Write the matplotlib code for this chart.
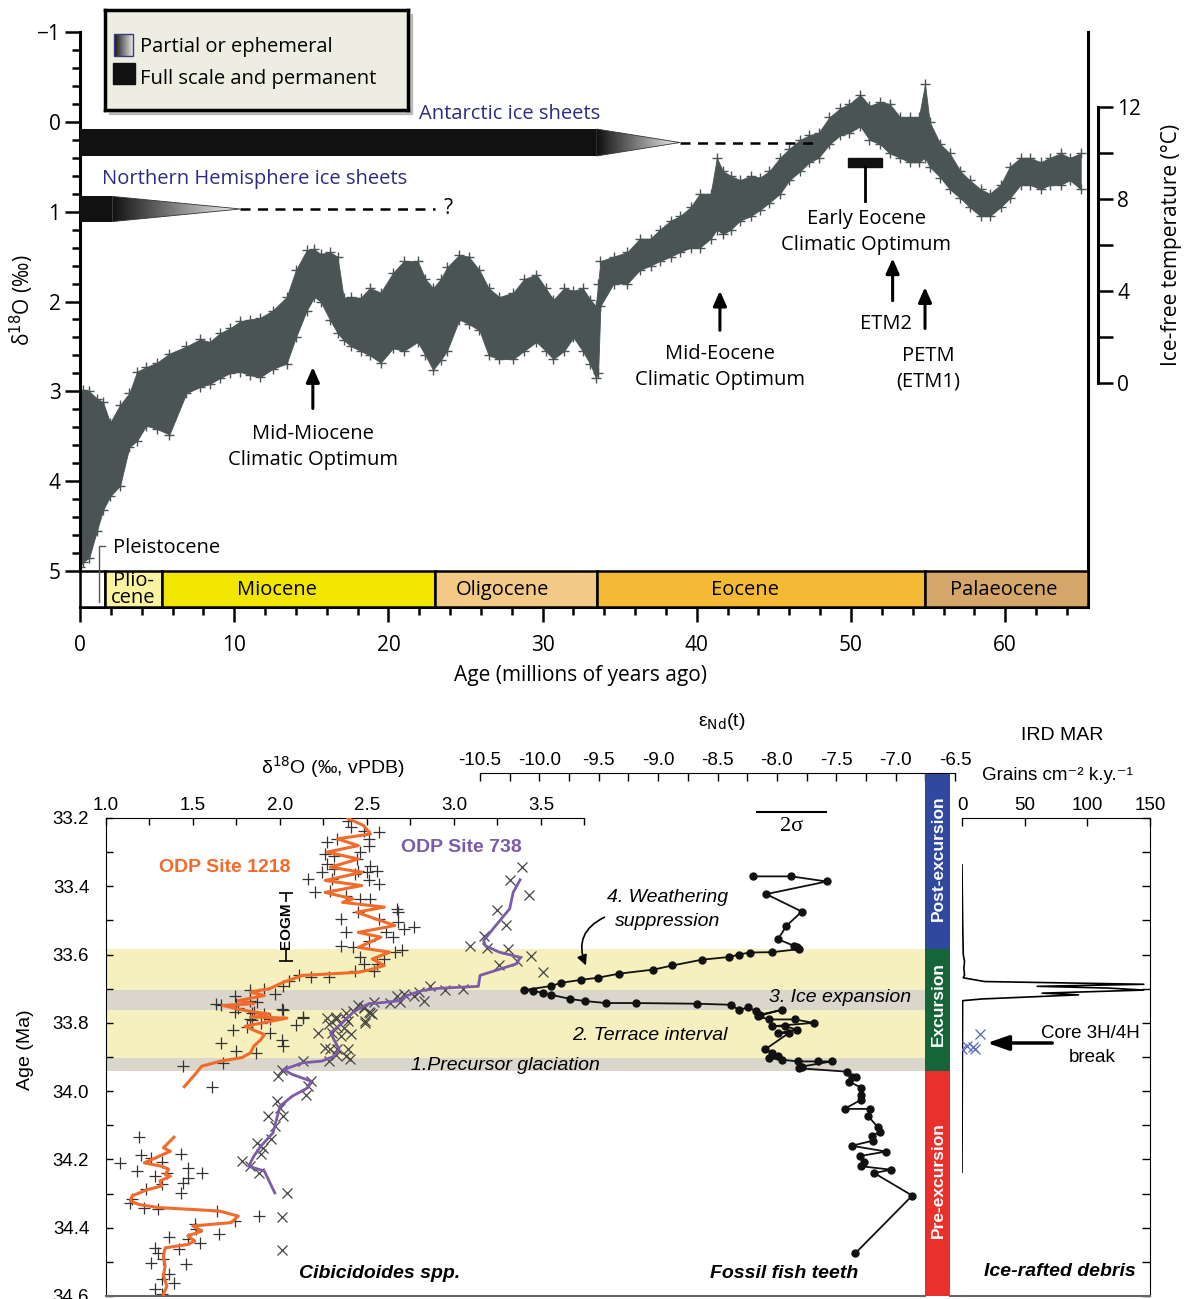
import numpy as np
import matplotlib.pyplot as plt
import matplotlib.ticker as mticker
from matplotlib.patches import Rectangle, Polygon
from matplotlib.colors import LinearSegmentedColormap

W, H = 1190, 1299
TOP_FONT = ['Open Sans', 'DejaVu Sans']
BOT_FONT = ['Liberation Sans', 'DejaVu Sans']
plt.rcParams['font.family'] = TOP_FONT

# Cenozoic benthic d18O compilation: upper / lower edge of the scatter cloud
zac_age = [0.0, 0.2, 0.6, 1.1, 1.5, 1.95, 2.6, 3.2, 3.7, 4.3, 5.0, 5.8, 6.9, 7.8,
           8.4, 9.1, 9.7, 10.4, 11.0, 11.7, 12.5, 13.4, 14.0, 14.7, 15.2, 15.6,
           16.2, 16.7, 17.1, 17.6, 18.2, 18.8, 19.5, 20.3, 21.0, 21.9, 22.4, 22.9,
           23.4, 23.8, 24.6, 25.2, 25.9, 26.5, 27.2, 28.1, 28.8, 29.6, 30.2, 30.7,
           31.4, 32.0, 32.6, 33.1, 33.45, 33.6, 33.75, 34.6, 35.5, 36.3, 37.0,
           37.6, 38.3, 38.9, 39.6, 40.2, 40.9, 41.3, 41.7, 42.2, 42.8, 43.5, 44.1,
           44.7, 45.4, 46.0, 46.7, 47.3, 47.9, 48.6, 49.3, 49.9, 50.6, 51.2, 51.9,
           52.5, 53.2, 53.8, 54.4, 54.8, 55.1, 55.8, 56.4, 57.1, 57.7, 58.4, 59.0,
           59.7, 60.3, 61.0, 61.6, 62.3, 62.9, 63.6, 64.2, 64.9]
zac_lo = [3.00, 2.98, 3.00, 3.08, 3.12, 3.35, 3.15, 3.02, 2.78, 2.73, 2.68, 2.58,
          2.50, 2.42, 2.45, 2.35, 2.30, 2.22, 2.20, 2.18, 2.10, 1.95, 1.65, 1.43,
          1.42, 1.47, 1.45, 1.50, 1.96, 1.95, 1.96, 1.85, 1.90, 1.68, 1.55, 1.55,
          1.75, 1.85, 1.75, 1.62, 1.48, 1.50, 1.65, 1.85, 1.95, 1.90, 1.75, 1.70,
          1.85, 1.98, 1.85, 1.88, 1.85, 1.98, 2.05, 1.80, 1.55, 1.50, 1.45, 1.30,
          1.30, 1.20, 1.10, 1.05, 0.95, 0.80, 0.80, 0.40, 0.55, 0.60, 0.65, 0.60,
          0.62, 0.55, 0.40, 0.30, 0.20, 0.15, 0.12, -0.05, -0.15, -0.20, -0.30,
          -0.18, -0.22, -0.20, -0.05, -0.05, -0.05, -0.42, 0.00, 0.25, 0.35, 0.55,
          0.65, 0.75, 0.80, 0.70, 0.50, 0.40, 0.40, 0.45, 0.40, 0.35, 0.40, 0.35]
zac_hi = [4.95, 4.90, 4.85, 4.55, 4.32, 4.17, 4.05, 3.62, 3.55, 3.38, 3.42, 3.48,
          3.02, 2.95, 2.92, 2.85, 2.80, 2.78, 2.82, 2.84, 2.75, 2.69, 2.40, 2.10,
          1.95, 2.00, 2.20, 2.35, 2.43, 2.50, 2.55, 2.60, 2.68, 2.52, 2.55, 2.45,
          2.60, 2.76, 2.65, 2.55, 2.20, 2.25, 2.32, 2.60, 2.64, 2.64, 2.55, 2.45,
          2.55, 2.64, 2.55, 2.40, 2.55, 2.70, 2.85, 2.80, 2.05, 1.80, 1.80, 1.65,
          1.60, 1.55, 1.50, 1.45, 1.40, 1.40, 1.30, 1.20, 1.25, 1.20, 1.10, 1.05,
          0.98, 0.90, 0.80, 0.65, 0.55, 0.45, 0.40, 0.25, 0.15, 0.12, 0.05, 0.20,
          0.25, 0.35, 0.40, 0.45, 0.45, 0.40, 0.50, 0.62, 0.75, 0.85, 0.95, 1.05,
          1.05, 0.95, 0.85, 0.70, 0.70, 0.75, 0.70, 0.70, 0.65, 0.75]

epoch_names = ['', 'Plio-\ncene', 'Miocene', 'Oligocene', 'Eocene', 'Palaeocene']
epoch_start = [0.0, 1.6, 5.3, 23.0, 33.5, 54.8]
epoch_end = [1.6, 5.3, 23.0, 33.5, 54.8, 65.37]
epoch_label_at = [0.8, 3.45, 12.8, 27.4, 43.1, 59.9]
epoch_colors = ['white', '#faf3a0', '#f2e600', '#f2c985', '#f5ba35', '#d4a66a']

# ODP Site 1218 benthic d18O (smoothed curve and individual samples)
s1218_d18o = [2.39, 2.48, 2.52, 2.33, 2.45, 2.27, 2.45, 2.29, 2.47, 2.26, 2.47, 2.26,
              2.42, 2.36, 2.60, 2.44, 2.66, 2.45, 2.58, 2.45, 2.63, 2.53, 2.60, 2.52,
              2.45, 2.13, 2.02, 1.94, 1.83, 1.91, 1.76, 1.85, 1.67, 1.80, 1.94, 1.83,
              2.04, 1.80, 1.86, 1.91, 1.89, 1.85, 1.83, 1.78, 1.66, 1.55, 1.52, 1.45,
              np.nan, 1.39, 1.33, 1.37, 1.22, 1.32, 1.36, 1.34, 1.37, 1.31, 1.32, 1.24,
              1.15, 1.14, 1.19, 1.30, 1.65, 1.76, 1.72, 1.50, 1.55, 1.47, 1.51, 1.47,
              1.34, 1.33, 1.34, 1.33, 1.35, 1.33]
s1218_age = [33.201, 33.222, 33.247, 33.261, 33.281, 33.300, 33.320, 33.344, 33.359,
             33.383, 33.398, 33.418, 33.437, 33.447, 33.461, 33.476, 33.515, 33.535,
             33.549, 33.579, 33.593, 33.613, 33.632, 33.644, 33.652, 33.661, 33.681,
             33.700, 33.710, 33.720, 33.735, 33.744, 33.749, 33.764, 33.774, 33.783,
             33.786, 33.810, 33.824, 33.834, 33.849, 33.868, 33.888, 33.902, 33.912,
             33.927, 33.946, 33.987, np.nan, 34.135, 34.166, 34.176, 34.210, 34.220,
             34.229, 34.244, 34.249, 34.263, 34.278, 34.288, 34.307, 34.322, 34.332,
             34.341, 34.351, 34.366, 34.385, 34.395, 34.410, 34.424, 34.439, 34.449,
             34.459, 34.483, 34.512, 34.541, 34.571, 34.595]
s1218_pts_d18o = [2.39, 2.41, 2.48, 2.57, 2.51, 2.27, 2.33, 2.51, 2.26, 2.31, 2.46, 2.44,
                  2.52, 2.27, 2.31, 2.45, 2.43, 2.50, 2.56, 2.24, 2.30, 2.51, 2.57, 2.16,
                  2.20, 2.29, 2.38, 2.46, 2.52, 2.67, 2.68, 2.35, 2.45, 2.57, 2.68, 2.77,
                  2.71, 2.61, 2.38, 2.65, 2.51, 2.35, 2.70, 2.42, 2.46, 2.60, 2.66, 2.56,
                  2.48, 2.43, 2.54, 2.28, 2.18, 2.11, 2.05, 2.02, 1.97, 1.91, 1.83, 1.74,
                  1.63, 1.66, 1.75, 1.83, 1.87, 1.74, 1.85, 2.01, 1.94, 2.13, 1.84, 1.81,
                  1.76, 1.84, 1.91, 2.02, 1.83, 1.89, 2.13, 2.09, 1.73, 1.94, 2.01, 1.66,
                  2.02, 1.75, 1.86, 1.67, 1.44, 1.61, 1.19, 1.20, 1.08, 1.26, 1.32, 1.43,
                  1.18, 1.28, 1.35, 1.47, 1.55, 1.47, 1.23, 1.32, 1.44, 1.43, 1.15, 1.14,
                  1.22, 1.30, 1.64, 1.74, 1.88, 1.51, 1.52, 1.65, 1.36, 1.47, 1.54, 1.42,
                  1.28, 1.30, 1.26, 1.33, 1.46, 1.36, 1.32, 1.39, 1.28, 1.32]
s1218_pts_age = [33.208, 33.227, 33.237, 33.242, 33.261, 33.271, 33.261, 33.281, 33.305,
                 33.310, 33.300, 33.320, 33.340, 33.335, 33.349, 33.354, 33.364, 33.359,
                 33.354, 33.359, 33.379, 33.383, 33.393, 33.379, 33.418, 33.413, 33.427,
                 33.437, 33.437, 33.466, 33.476, 33.496, 33.476, 33.496, 33.505, 33.520,
                 33.525, 33.535, 33.535, 33.549, 33.559, 33.574, 33.588, 33.579, 33.608,
                 33.613, 33.593, 33.627, 33.627, 33.647, 33.647, 33.666, 33.666, 33.661,
                 33.676, 33.691, 33.715, 33.700, 33.705, 33.720, 33.744, 33.749, 33.744,
                 33.735, 33.740, 33.769, 33.767, 33.759, 33.788, 33.783, 33.793, 33.813,
                 33.756, 33.771, 33.773, 33.761, 33.790, 33.800, 33.785, 33.805, 33.820,
                 33.829, 33.849, 33.859, 33.868, 33.883, 33.888, 33.917, 33.927, 33.987,
                 34.135, 34.188, 34.210, 34.195, 34.208, 34.185, 34.234, 34.249, 34.239,
                 34.224, 34.239, 34.254, 34.288, 34.273, 34.268, 34.298, 34.315, 34.327,
                 34.341, 34.344, 34.351, 34.380, 34.366, 34.390, 34.405, 34.417, 34.427,
                 34.434, 34.444, 34.463, 34.459, 34.473, 34.502, 34.493, 34.507, 34.537,
                 34.549, 34.561, 34.580, 34.595]

# ODP Site 738 benthic d18O
s738_d18o = [3.38, 3.34, 3.32, 3.24, 3.17, 3.18, 3.26, 3.38, 3.36, 3.15, 3.14, 2.91,
             2.82, 2.73, 2.69, 2.60, 2.51, 2.47, 2.42, 2.38, 2.33, 2.29, 2.34, 2.31,
             2.24, 2.13, 2.02, 2.07, 2.18, 2.16, 2.07, 2.00, 1.98, 1.96, 1.89, 1.85,
             1.82, 1.91, 1.97]
s738_age = [33.381, 33.418, 33.466, 33.515, 33.559, 33.574, 33.593, 33.608, 33.627,
            33.661, 33.693, 33.699, 33.705, 33.720, 33.735, 33.740, 33.744, 33.754,
            33.769, 33.788, 33.813, 33.829, 33.878, 33.898, 33.912, 33.917, 33.937,
            33.951, 33.971, 33.990, 34.015, 34.044, 34.083, 34.122, 34.161, 34.190,
            34.220, 34.234, 34.298]
s738_pts_d18o = [3.39, 3.32, 3.43, 3.25, 3.30, 3.17, 3.09, 3.19, 3.31, 3.44, 3.26, 3.51,
                 3.36, 3.05, 2.95, 2.86, 2.80, 2.77, 2.71, 2.67, 2.83, 2.69, 2.63, 2.54,
                 2.48, 2.51, 2.45, 2.42, 2.53, 2.38, 2.32, 2.28, 2.33, 2.49, 2.38, 2.48,
                 2.52, 2.49, 2.32, 2.39, 2.27, 2.22, 2.30, 2.37, 2.41, 2.35, 2.26, 2.29,
                 2.33, 2.39, 2.32, 2.38, 2.28, 2.40, 2.13, 2.01, 1.99, 2.18, 2.16, 2.15,
                 1.98, 2.00, 2.02, 1.93, 1.97, 1.95, 1.87, 1.90, 1.89, 1.78, 1.83, 1.88,
                 2.04, 2.01, 2.01]
s738_pts_age = [33.344, 33.383, 33.425, 33.468, 33.512, 33.546, 33.574, 33.581, 33.585,
                33.603, 33.632, 33.652, 33.618, 33.700, 33.703, 33.693, 33.710, 33.722,
                33.715, 33.720, 33.735, 33.740, 33.741, 33.740, 33.754, 33.769, 33.747,
                33.764, 33.774, 33.788, 33.783, 33.803, 33.813, 33.796, 33.771, 33.756,
                33.771, 33.800, 33.790, 33.795, 33.785, 33.829, 33.829, 33.815, 33.834,
                33.839, 33.873, 33.878, 33.878, 33.878, 33.893, 33.898, 33.912, 33.907,
                33.912, 33.937, 33.956, 33.971, 33.985, 34.010, 34.029, 34.049, 34.073,
                34.073, 34.102, 34.141, 34.151, 34.166, 34.185, 34.205, 34.220, 34.239,
                34.298, 34.368, 34.465]

# Fossil fish teeth eNd(t)
nd_eps = [-8.20, -7.88, -7.58, -8.09, -7.79, -7.92, -7.99, -7.86, -7.83, -7.81, -8.04,
          -8.23, -8.32, -8.40, -8.63, -8.88, -9.04, -9.33, -9.51, -9.65, -9.82, -9.90,
          -10.13, -10.05, -9.97, -9.90, -9.74, -9.62, -9.44, -9.19, -8.67, -8.39, -8.32,
          -8.24, -8.18, -8.14, -7.96, -8.16, -8.07, -7.85, -7.69, -8.04, -7.93, -7.83,
          -7.99, -7.90, -8.10, -8.04, -7.99, -8.07, -7.96, -7.82, -7.65, -7.54, -7.79,
          -7.81, -7.41, -7.37, -7.33, -7.39, -7.29, -7.29, -7.29, -7.43, -7.22, -7.23,
          -7.15, -7.13, -7.20, -7.19, -7.37, -7.08, -7.30, -7.27, -7.29, -7.04, -7.18,
          -6.86, -7.34]
nd_age = [33.371, 33.371, 33.386, 33.423, 33.474, 33.516, 33.555, 33.574, 33.578,
          33.584, 33.593, 33.594, 33.600, 33.607, 33.615, 33.632, 33.644, 33.656, 33.668,
          33.674, 33.683, 33.692, 33.704, 33.707, 33.712, 33.718, 33.730, 33.736, 33.742,
          33.742, 33.744, 33.747, 33.762, 33.755, 33.765, 33.776, 33.762, 33.780, 33.790,
          33.790, 33.800, 33.810, 33.810, 33.820, 33.830, 33.830, 33.878, 33.888, 33.898,
          33.903, 33.908, 33.913, 33.913, 33.913, 33.928, 33.933, 33.943, 33.960, 33.960,
          33.972, 33.990, 34.010, 34.025, 34.052, 34.052, 34.074, 34.105, 34.120, 34.130,
          34.145, 34.160, 34.177, 34.190, 34.208, 34.220, 34.230, 34.240, 34.306, 34.475]

# Ice-rafted debris mass accumulation rate
ird_grains = [0, 0.5, 1, 2, 1.5, 2, 1, 18, 145, 60, 116, 145, 64, 93, 16, 0.5, 0]
ird_age = [33.337, 33.50, 33.60, 33.62, 33.64, 33.66, 33.668, 33.679, 33.687, 33.693,
           33.698, 33.704, 33.713, 33.718, 33.730, 33.735, 34.237]
ird_pts_grains = [14, 0, 4, 10, 8.5]
ird_pts_age = [33.833, 33.876, 33.867, 33.876, 33.870]

# climate phases and shaded intervals (Ma)
yellow_bands = [(33.584, 33.704), (33.762, 33.903)]
grey_bands = [(33.704, 33.762), (33.903, 33.941)]
phase_names = ['Post-excursion', 'Excursion', 'Pre-excursion']
phase_top = [33.07, 33.584, 33.941]
phase_bottom = [33.584, 33.941, 34.6]
phase_colors = ['#2f48a0', '#16653a', '#e8312a']


def frac(l, t, r, b):
    return [l / W, 1 - b / H, (r - l) / W, (b - t) / H]


fig = plt.figure(figsize=(W / 100, H / 100), dpi=100)


def ftext(x, y, s, **kw):
    fig.text(x / W, 1 - y / H, s, **kw)


# ------------------------------------------------------------------ top panel
cloud = '#4a5454'
ink = '#2e2b80'
ax = fig.add_axes(frac(80, 32, 1088, 607))
ax.set_facecolor('none')
ax.fill_between(zac_age, zac_lo, zac_hi, color=cloud, lw=0.6, zorder=2)
ax.scatter(zac_age, zac_lo, marker='+', s=55, color=cloud, lw=1.0, zorder=2)
ax.scatter(zac_age, zac_hi, marker='+', s=55, color=cloud, lw=1.0, zorder=2)

for name, a0, a1, xl, c in zip(epoch_names, epoch_start, epoch_end, epoch_label_at,
                               epoch_colors):
    ax.add_patch(Rectangle((a0, 5.0), a1 - a0, 0.4, facecolor=c, edgecolor='black',
                           lw=1.8, zorder=3, clip_on=False))
    ax.text(xl, 5.21, name, ha='center', va='center', fontsize=14.5,
            linespacing=0.8, zorder=4)

ax.plot([1.62, 1.23, 1.23], [4.72, 4.72, 5.34], color='#555555', lw=1, zorder=5)
ax.text(2.15, 4.74, 'Pleistocene', va='center', fontsize=14.5)

# ice sheet bars
fade = LinearSegmentedColormap.from_list('fade', ['#111111', '#f2f2f2'])
ramp = np.linspace(0, 1, 128)[None, :]


def ice_bar(a_full, a_tip, y0, y1, dash_end):
    ym = (y0 + y1) / 2
    ax.add_patch(Rectangle((0, y0), a_full, y1 - y0, color='#111111', lw=0, zorder=3))
    tri = Polygon([(a_full, y0), (a_full, y1), (a_tip, ym)], closed=True,
                  transform=ax.transData, facecolor='none', edgecolor='#333333', lw=0.6,
                  zorder=4)
    im = ax.imshow(ramp, cmap=fade, extent=(a_full, a_tip, y1, y0), aspect='auto',
                   zorder=3)
    im.set_clip_path(tri)
    ax.add_patch(tri)
    ax.plot([a_tip, dash_end], [ym, ym], color='black', lw=1.8, ls=(0, (4, 3)), zorder=3)
    return ym


ice_bar(33.5, 38.9, 0.08, 0.38, 48.0)
ym = ice_bar(2.1, 10.4, 0.83, 1.11, 23.0)
ax.text(23.6, ym, '?', va='center', fontsize=15)
ax.text(22.0, -0.09, 'Antarctic ice sheets', color=ink, va='center', fontsize=14.5)
ax.text(1.4, 0.64, 'Northern Hemisphere ice sheets', color=ink, va='center',
        fontsize=14.5)

# Early Eocene Climatic Optimum marker
ax.add_patch(Rectangle((49.8, 0.40), 2.2, 0.10, color='#111111', zorder=3))
ax.plot([50.9, 50.9], [0.5, 0.88], color='black', lw=2, zorder=3)
ax.text(51.0, 1.23, 'Early Eocene\nClimatic Optimum', ha='center', va='center',
        fontsize=14.5, linespacing=1.4)

arrow = dict(arrowstyle='-|>,head_length=0.9,head_width=0.4', color='black', lw=2.2,
             shrinkA=0, shrinkB=0)
ax.annotate('', xy=(15.1, 2.73), xytext=(15.1, 3.19), arrowprops=arrow)
ax.text(15.1, 3.62, 'Mid-Miocene\nClimatic Optimum', ha='center', va='center',
        fontsize=14.5, linespacing=1.4)
ax.annotate('', xy=(41.5, 1.88), xytext=(41.5, 2.32), arrowprops=arrow)
ax.text(41.5, 2.73, 'Mid-Eocene\nClimatic Optimum', ha='center', va='center',
        fontsize=14.5, linespacing=1.4)
ax.annotate('', xy=(52.7, 1.52), xytext=(52.7, 1.99), arrowprops=arrow)
ax.text(52.3, 2.25, 'ETM2', ha='center', va='center', fontsize=14.5)
ax.annotate('', xy=(54.8, 1.84), xytext=(54.8, 2.30), arrowprops=arrow)
ax.text(55.0, 2.75, 'PETM\n(ETM1)', ha='center', va='center', fontsize=14.5,
        linespacing=1.4)

ax.set_xlim(0, 65.37)
ax.set_ylim(5.4, -1)
ax.spines['top'].set_visible(False)
ax.spines['left'].set_bounds(-1, 5)
for s in ['left', 'right', 'bottom']:
    ax.spines[s].set_linewidth(2.2)
ax.yaxis.set_major_locator(mticker.FixedLocator(range(-1, 6)))
ax.yaxis.set_minor_locator(mticker.FixedLocator(np.arange(-1, 5.01, 0.2)))
ax.yaxis.set_major_formatter(mticker.FuncFormatter(
    lambda v, p: f'{v:.0f}'.replace('-', '\u2212')))
ax.xaxis.set_major_locator(mticker.MultipleLocator(10))
ax.xaxis.set_minor_locator(mticker.FixedLocator(np.arange(0, 65, 2)))
ax.tick_params(axis='both', which='major', length=11, width=1.8, labelsize=15)
ax.tick_params(axis='both', which='minor', length=6, width=1.8)
ax.tick_params(axis='x', which='major', pad=9)
ax.tick_params(axis='y', which='major', pad=3)
ftext(22, 300, r'δ$^{18}$O (‰)', rotation=90, ha='center', va='center', fontsize=15)
ftext(580, 676, 'Age (millions of years ago)', ha='center', va='center', fontsize=15)

# ice-free temperature scale
axt = fig.add_axes(frac(1060, 32, 1098, 607))
axt.set_facecolor('none')
axt.set_ylim((383 - 607) / 23, (383 - 32) / 23)
for s in ['left', 'top', 'bottom']:
    axt.spines[s].set_visible(False)
axt.spines['right'].set_bounds(0, 12)
axt.spines['right'].set_linewidth(2.2)
axt.set_xticks([])
axt.yaxis.tick_right()
axt.set_yticks(range(0, 13, 2))
axt.set_yticklabels(['0', '', '4', '', '8', '', '12'])
axt.tick_params(axis='y', length=11, width=1.8, labelsize=15, pad=3)
ftext(1172, 245, 'Ice-free temperature (°C)', rotation=90, ha='center', va='center',
      fontsize=15)

# legend box
shadow = Rectangle(frac(109, 14, 412, 114)[:2], 303 / W, 100 / H,
                   transform=fig.transFigure, color='#9a9a9a', alpha=0.6, zorder=4)
fig.add_artist(shadow)
axl = fig.add_axes(frac(105, 10, 408, 110), zorder=5)
axl.set_facecolor('#eeede2')
axl.imshow(ramp, cmap=fade, extent=(114, 133, 56, 34), aspect='auto')
axl.add_patch(Rectangle((114, 34), 19, 22, facecolor='none', edgecolor='#3a3a80', lw=1))
axl.add_patch(Rectangle((113, 63), 22, 21, color='#111111'))
axl.text(140, 47, 'Partial or ephemeral', va='center', fontsize=14.5)
axl.text(140, 79, 'Full scale and permanent', va='center', fontsize=14.5)
axl.set_xlim(105, 408)
axl.set_ylim(110, 10)
axl.set_xticks([])
axl.set_yticks([])
for s in axl.spines.values():
    s.set_linewidth(2.5)

# --------------------------------------------------------------- bottom panel
plt.rcParams['font.family'] = BOT_FONT
orange = '#f26b2a'
purple = '#7b5baa'

ax2 = fig.add_axes(frac(106, 818, 925, 1296))
for a0, a1 in yellow_bands:
    ax2.axhspan(a0, a1, color='#f5f0be', lw=0, zorder=0)
for a0, a1 in grey_bands:
    ax2.axhspan(a0, a1, color='#dad6cc', lw=0, zorder=0)
ax2.plot(s1218_pts_d18o, s1218_pts_age, ls='none', marker='+', ms=8, mew=0.9,
         color='#333333', zorder=2)
ax2.plot(s1218_d18o, s1218_age, color=orange, lw=2.2, zorder=3)
ax2.plot(s738_pts_d18o, s738_pts_age, ls='none', marker='x', ms=7, mew=0.9,
         color='#444444', zorder=2)
ax2.plot(s738_d18o, s738_age, color=purple, lw=2, zorder=3)
ax2.errorbar([2.035], [33.52], yerr=[0.10], color='black', lw=1.2, capsize=5,
             capthick=1.2, zorder=3)
ax2.text(2.035, 33.515, 'EOGM', rotation=90, ha='center', va='center', fontsize=11,
         fontweight='bold', zorder=4,
         bbox=dict(facecolor='white', edgecolor='none', pad=0.5))
ax2.set_xlim(1.0, 5.707)
ax2.set_ylim(34.6, 33.2)
ax2.xaxis.tick_top()
ax2.set_xticks(np.arange(1.0, 3.6, 0.5))
ax2.xaxis.set_minor_locator(mticker.FixedLocator(np.arange(1.0, 3.76, 0.25)))
ax2.xaxis.set_major_formatter(mticker.FormatStrFormatter('%.1f'))
ax2.set_yticks(np.arange(33.2, 34.61, 0.2))
ax2.yaxis.set_minor_locator(mticker.FixedLocator(np.arange(33.2, 34.61, 0.1)))
ax2.yaxis.set_major_formatter(mticker.FormatStrFormatter('%.1f'))
ax2.tick_params(which='both', direction='in', width=1, labelsize=13.5)
ax2.tick_params(which='major', length=5)
ax2.tick_params(which='minor', length=5)
ax2.tick_params(axis='y', pad=12)
ax2.tick_params(axis='x', pad=3)
ax2.spines['right'].set_visible(False)
ax2.spines['top'].set_bounds(1.0, 3.75)
ax2.spines['bottom'].set_color('#666666')
ax2.spines['bottom'].set_linewidth(1.5)

# eNd axis shares the age scale but its spine sits higher
axn = fig.add_axes(frac(106, 773, 962, 1296))
axn.set_facecolor('none')
axn.plot(nd_eps, nd_age, '-o', color='#111111', ms=5, lw=1.3, zorder=3)
axn.plot([-8.17, -7.59], [33.182, 33.182], color='black', lw=1.5)
axn.text(-7.88, 33.226, '2σ', ha='center', va='center', fontsize=16,
         family=['Liberation Serif', 'DejaVu Serif'])
axn.set_xlim(-13.65, -6.441)
axn.set_ylim(34.6, 33.2 - 45 / 341.5)
for s in ['left', 'right', 'bottom']:
    axn.spines[s].set_visible(False)
axn.spines['top'].set_bounds(-10.5, -6.5)
axn.xaxis.tick_top()
axn.set_xticks(np.arange(-10.5, -6.49, 0.25))
axn.set_xticklabels([f'{v:.1f}' if i % 2 == 0 else ''
                     for i, v in enumerate(np.arange(-10.5, -6.49, 0.25))])
axn.set_yticks([])
axn.tick_params(axis='x', direction='in', length=6, width=1, labelsize=13.5, pad=3)

# phase bar
axp = fig.add_axes(frac(925, 774, 950, 1296))
axp.set_ylim(34.6, 33.2 - 44 / 341.5)
for name, a0, a1, c in zip(phase_names, phase_top, phase_bottom, phase_colors):
    axp.axhspan(a0, a1, color=c, lw=0)
axp.axis('off')
for name, y in zip(phase_names, [858, 1004, 1180]):
    ftext(938, y, name, rotation=90, ha='center', va='center', color='white',
          fontsize=12.5, fontweight='bold')

# ice-rafted debris
axi = fig.add_axes(frac(962, 818, 1150, 1296))
axi.set_facecolor('none')
axi.plot(ird_grains, ird_age, color='black', lw=1.2)
axi.plot(ird_pts_grains, ird_pts_age, ls='none', marker='x', ms=7, mew=0.9,
         color='#5566bb')
axi.annotate('', xy=(20, 33.859), xytext=(72, 33.859),
             arrowprops=dict(arrowstyle='-|>,head_length=1.3,head_width=0.45',
                             color='black', lw=2.5, shrinkA=0, shrinkB=0))
axi.set_xlim(0, 150)
axi.set_ylim(34.6, 33.2)
axi.spines['left'].set_visible(False)
axi.spines['bottom'].set_color('#666666')
axi.spines['bottom'].set_linewidth(1.5)
axi.xaxis.tick_top()
axi.set_xticks([0, 50, 100, 150])
axi.yaxis.tick_right()
axi.set_yticks(np.arange(33.2, 34.61, 0.1))
axi.set_yticklabels([])
axi.tick_params(which='both', direction='in', length=6, width=1, labelsize=13.5, pad=3)

fig.add_artist(plt.Line2D([950 / W, 962 / W], [1 - 1296 / H] * 2, color='#666666',
                          lw=1.5))

ftext(1090, 1033, 'Core 3H/4H', ha='center', va='center', fontsize=13.5)
ftext(1092, 1058, 'break', ha='center', va='center', fontsize=13.5)
ftext(1062, 735, 'IRD MAR', ha='center', va='center', fontsize=14)
ftext(1057, 775, 'Grains cm\u207b\u00b2 k.y.\u207b\u00b9', ha='center', va='center',
      fontsize=13.5)
ftext(722, 722, 'ε$_{\\mathrm{Nd}}$(t)', ha='center', va='center', fontsize=14)
ftext(333, 767, 'δ$^{18}$O (‰, vPDB)', ha='center', va='center', fontsize=14)
ftext(25, 1050, 'Age (Ma)', rotation=90, ha='center', va='center', fontsize=14)

ftext(225, 867, 'ODP Site 1218', ha='center', va='center', fontsize=14,
      fontweight='bold', color=orange)
ftext(461, 847, 'ODP Site 738', ha='center', va='center', fontsize=14,
      fontweight='bold', color=purple)
ftext(668, 897, '4. Weathering', ha='center', va='center', fontsize=14, style='italic')
ftext(668, 922, 'suppression', ha='center', va='center', fontsize=14, style='italic')
ftext(840, 998, '3. Ice expansion', ha='center', va='center', fontsize=14,
      style='italic')
ftext(650, 1035, '2. Terrace interval', ha='center', va='center', fontsize=14,
      style='italic')
ftext(505, 1066, '1.Precursor glaciation', ha='center', va='center', fontsize=14,
      style='italic')
ftext(380, 1274, 'Cibicidoides spp.', ha='center', va='center', fontsize=14,
      style='italic', fontweight='bold')
ftext(784, 1274, 'Fossil fish teeth', ha='center', va='center', fontsize=14,
      style='italic', fontweight='bold')
ftext(1060, 1272, 'Ice-rafted debris', ha='center', va='center', fontsize=14,
      style='italic', fontweight='bold')

ax2.annotate('', xy=(587, H - 968), xycoords='figure pixels',
             xytext=(607, H - 916), textcoords='figure pixels',
             arrowprops=dict(arrowstyle='-|>,head_length=0.6,head_width=0.3',
                             color='black', lw=1.2, connectionstyle='arc3,rad=0.5'))

fig.savefig('out.png', dpi=100)
